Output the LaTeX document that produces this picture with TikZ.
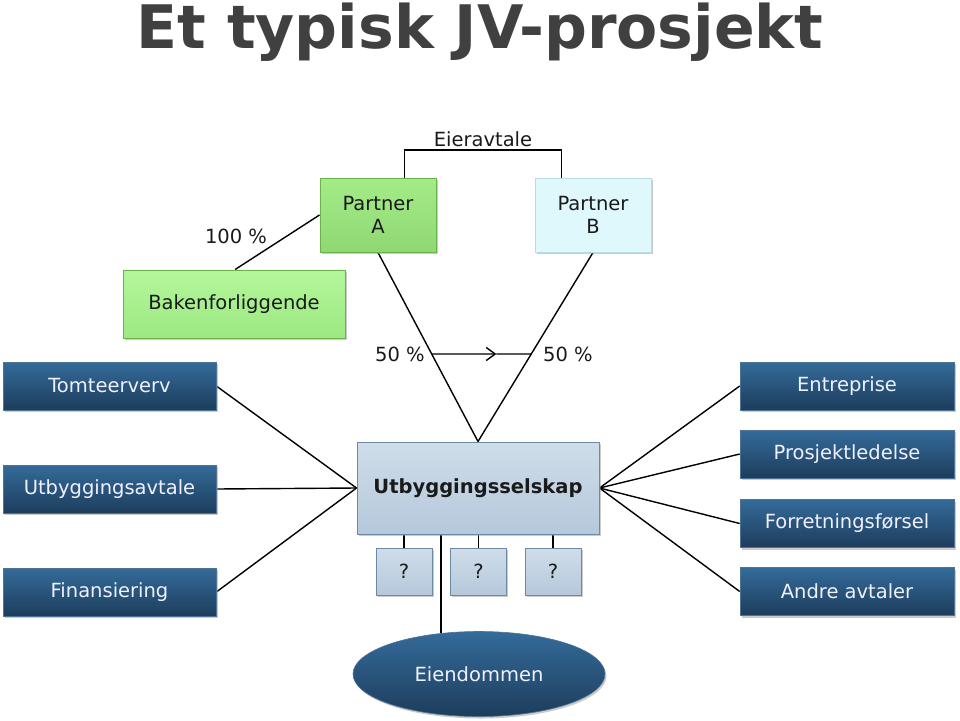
\documentclass[tikz,border=0pt]{standalone}
\usepackage{fontspec}
\setmainfont{DejaVu Sans}
\usetikzlibrary{shapes.geometric,shadows,arrows.meta,calc,backgrounds}
\definecolor{titlegray}{HTML}{404040}
\definecolor{darktop}{HTML}{346B9A}
\definecolor{darkbot}{HTML}{1D3D5C}
\definecolor{darkedge}{HTML}{4F7396}
\definecolor{greentop}{HTML}{A4EC88}
\definecolor{greenbot}{HTML}{8ED873}
\definecolor{greenedge}{HTML}{68B44A}
\definecolor{lgreentop}{HTML}{B4F79B}
\definecolor{lgreenbot}{HTML}{9CE882}
\definecolor{cyanfill}{HTML}{DFF8FC}
\definecolor{cyanedge}{HTML}{B5DCE8}
\definecolor{steeltop}{HTML}{CFDDEA}
\definecolor{steelbot}{HTML}{B5C8DB}
\definecolor{steeledge}{HTML}{6C89A7}
\definecolor{txtdark}{HTML}{1A1A1A}
\tikzset{
  base/.style={rectangle, inner sep=0pt, align=center, font=\fontsize{19.5}{23}\selectfont,
    drop shadow={shadow xshift=1.5pt, shadow yshift=-2pt, fill=black!40, opacity=0.5}},
  darkbox/.style={base, top color=darktop, bottom color=darkbot, draw=darkedge, line width=0.6pt,
    text=white!94!blue, minimum width=213pt, minimum height=48pt},
  partnera/.style={base, top color=greentop, bottom color=greenbot, draw=greenedge, line width=1pt,
    text=txtdark, minimum width=116pt, minimum height=74pt},
  partnerb/.style={base, fill=cyanfill, draw=cyanedge, line width=1pt,
    text=txtdark, minimum width=116pt, minimum height=74pt},
  bakbox/.style={base, top color=lgreentop, bottom color=lgreenbot, draw=greenedge, line width=1pt,
    text=txtdark, minimum width=222pt, minimum height=68pt},
  steelbox/.style={base, top color=steeltop, bottom color=steelbot, draw=steeledge, line width=1pt,
    text=txtdark},
  qbox/.style={steelbox, minimum width=56pt, minimum height=47pt},
  conn/.style={draw=black, line width=1.4pt},
  lbl/.style={inner sep=0pt, text=txtdark, font=\fontsize{19.5}{23}\selectfont}
}
\begin{document}
\begin{tikzpicture}[x=1pt,y=-1pt]
\useasboundingbox (0,0) rectangle (960,720);
% title
\node[inner sep=0pt, anchor=base, text=titlegray, font=\fontsize{60}{66}\bfseries\selectfont] (title) at (480,48) {Et typisk JV-prosjekt};
% top
\node[lbl] (eier) at (483,139) {Eieravtale};
\node[partnera] (pa) at (378,215) {Partner\\A};
\node[partnerb] (pb) at (593,215) {Partner\\B};
\node[lbl] (hundre) at (236,236) {100 \%};
\node[bakbox] (bak) at (234,304) {Bakenforliggende};
% center
\node[steelbox, minimum width=242pt, minimum height=92pt, font=\fontsize{19.5}{23}\bfseries\selectfont] (sel) at (478,488) {Utbyggingsselskap};
\node[qbox] (q1) at (404,571.5) {?};
\node[qbox] (q2) at (478.5,571.5) {?};
\node[qbox] (q3) at (553,571.5) {?};
\node[ellipse, inner sep=0pt, minimum width=252pt, minimum height=85pt,
  top color=darktop, bottom color=darkbot, draw=darkedge, line width=0.6pt, text=white!94!blue,
  font=\fontsize{19.5}{23}\selectfont,
  drop shadow={shadow xshift=1.5pt, shadow yshift=-2pt, fill=black!40, opacity=0.5}] (eien) at (479,674) {Eiendommen};
% left
\node[darkbox] (tomt) at (109.5,386) {Tomteerverv};
\node[darkbox] (utb) at (109.5,489) {Utbyggingsavtale};
\node[darkbox] (fin) at (109.5,592) {Finansiering};
% right
\node[darkbox, minimum width=214pt] (ent) at (847,386) {Entreprise};
\node[darkbox, minimum width=214pt] (pro) at (847,454) {Prosjektledelse};
\node[darkbox, minimum width=214pt] (forr) at (847,523.5) {Forretningsførsel};
\node[darkbox, minimum width=214pt] (andre) at (847,591.5) {Andre avtaler};
% percent labels
\node[lbl] (pl) at (400,354) {50 \%};
\node[lbl] (pr) at (568,354) {50 \%};
\begin{scope}[on background layer]
  \fill[white] (0,0) rectangle (960,720);
  \coordinate (paT) at ($(pa.north west)!0.724!(pa.north east)$);
  \coordinate (pbT) at ($(pb.north west)!0.233!(pb.north east)$);
  \coordinate (bar) at (483,150);
  \draw[conn] (paT) |- (bar) -| (pbT);
  \draw[conn] (pa.west) -- ($(bak.north west)!0.505!(bak.north east)$);
  \draw[conn] (pa.south) -- (sel.north);
  \draw[conn] (pb.south) -- (sel.north);
  \coordinate (aL) at ($(pa.south)!0.537!(sel.north)$);
  \coordinate (aR) at ($(pb.south)!0.537!(sel.north)$);
  \coordinate (aM) at ($(aL)!0.65!(aR)$);
  \draw[conn, -{Straight Barb[length=9pt,width=13pt]}] (aL) -- (aM);
  \draw[conn] (aM) -- (aR);
  \draw[conn] (tomt.east) -- (sel.west);
  \draw[conn] (utb.east) -- (sel.west);
  \draw[conn] (fin.east) -- (sel.west);
  \draw[conn] (sel.east) -- (ent.west);
  \draw[conn] (sel.east) -- (pro.west);
  \draw[conn] (sel.east) -- (forr.west);
  \draw[conn] (sel.east) -- (andre.west);
  \draw[conn] (q1.north) -- (q1.north |- sel.south);
  \draw[conn] (q2.north) -- (q2.north |- sel.south);
  \draw[conn] (q3.north) -- (q3.north |- sel.south);
  \coordinate (selB) at ($(sel.south west)!0.347!(sel.south east)$);
  \draw[conn] (selB) -- (selB |- eien.center);
\end{scope}
\end{tikzpicture}
\end{document}
